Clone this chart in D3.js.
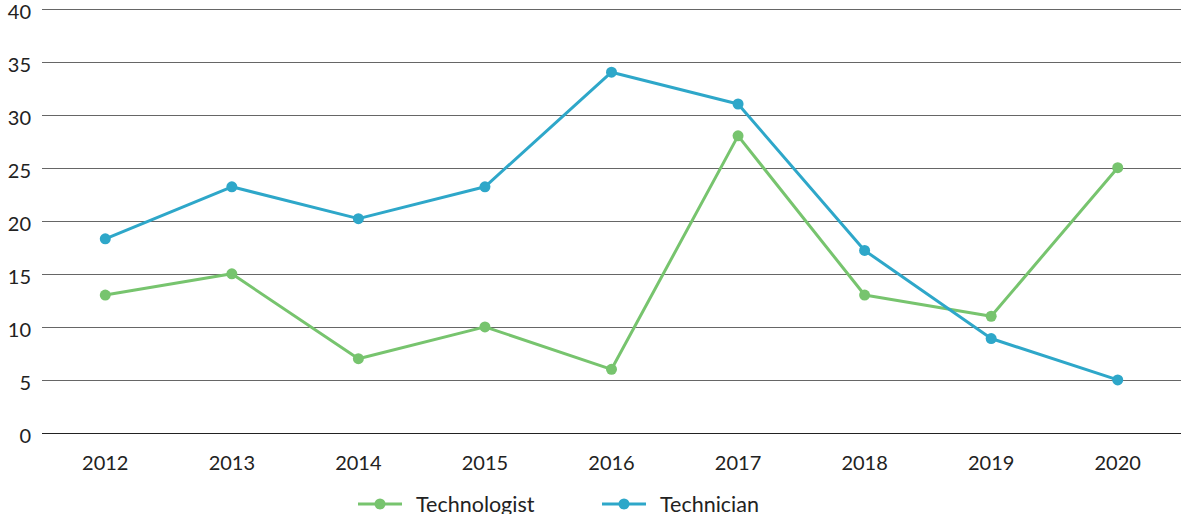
<!DOCTYPE html>
<html>
<head>
<meta charset="utf-8">
<script src="https://cdn.jsdelivr.net/npm/d3@7"></script>
<style>
  html, body { margin: 0; padding: 0; background: #fff; }
  body { width: 1181px; height: 514px; overflow: hidden; font-family: Lato, "Noto Sans", sans-serif; }
  text { fill: #222; }
</style>
</head>
<body>
<div id="chart"></div>
<script>
const width = 1181;
const height = 514;

const years = ["2012", "2013", "2014", "2015", "2016", "2017", "2018", "2019", "2020"];
const technologist = [13, 15, 7, 10, 6, 28, 13, 11, 25];
const technician = [18.3, 23.2, 20.2, 23.2, 34, 31, 17.2, 8.9, 5];
const yTicks = [0, 5, 10, 15, 20, 25, 30, 35, 40];

const series = [
  { name: "Technologist", values: technologist, color: "#77c46e" },
  { name: "Technician", values: technician, color: "#2ea7c9" },
];

const svg = d3
  .select("#chart")
  .append("svg")
  .attr("width", width)
  .attr("height", height)
  .attr("viewBox", `0 0 ${width} ${height}`);

const x = d3.scalePoint().domain(years).range([42, 1181]).padding(0.5);
const y = d3.scaleLinear().domain([0, 40]).range([433, 8.5]);

// gridlines
svg
  .append("g")
  .selectAll("line")
  .data(yTicks)
  .join("line")
  .attr("x1", 42)
  .attr("x2", width)
  .attr("y1", (d) => Math.round(y(d)) + 0.5)
  .attr("y2", (d) => Math.round(y(d)) + 0.5)
  .attr("stroke", (d) => (d === 0 ? "#222" : "#666"))
  .attr("stroke-width", (d) => (d === 0 ? 1.2 : 1));

// y labels (sit a little below their gridline)
svg
  .append("g")
  .selectAll("text")
  .data(yTicks)
  .join("text")
  .attr("x", 31)
  .attr("y", (d) => y(d) + 3)
  .attr("dy", "0.35em")
  .attr("text-anchor", "end")
  .style("font-size", "20px")
  .text((d) => d);

// x labels
svg
  .append("g")
  .selectAll("text")
  .data(years)
  .join("text")
  .attr("x", (d) => x(d))
  .attr("y", 470)
  .attr("text-anchor", "middle")
  .style("font-size", "20px")
  .text((d) => d);

const line = d3
  .line()
  .x((d, i) => x(years[i]))
  .y((d) => y(d));

series.forEach((s) => {
  const g = svg.append("g");
  g.append("path")
    .attr("d", line(s.values))
    .attr("fill", "none")
    .attr("stroke", s.color)
    .attr("stroke-width", 3)
    .attr("stroke-linejoin", "round");
  g.selectAll("circle")
    .data(s.values)
    .join("circle")
    .attr("cx", (d, i) => x(years[i]))
    .attr("cy", (d) => y(d))
    .attr("r", 5.5)
    .attr("fill", s.color);
});

// legend
const legendX = [358, 602];
const legend = svg
  .append("g")
  .selectAll("g")
  .data(series)
  .join("g")
  .attr("transform", (d, i) => `translate(${legendX[i]},504)`);

legend
  .append("line")
  .attr("x1", 0)
  .attr("x2", 44)
  .attr("stroke", (d) => d.color)
  .attr("stroke-width", 3);

legend
  .append("circle")
  .attr("cx", 22)
  .attr("r", 5.5)
  .attr("fill", (d) => d.color);

legend
  .append("text")
  .attr("x", 58)
  .attr("dy", "0.35em")
  .style("font-size", "21.5px")
  .text((d) => d.name);
</script>
</body>
</html>
